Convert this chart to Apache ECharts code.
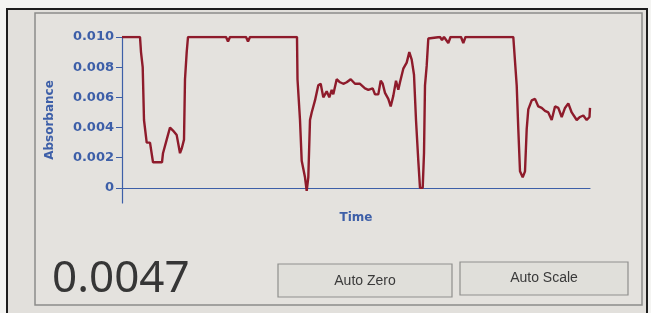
<!DOCTYPE html>
<html>
<head>
<meta charset="utf-8">
<script src="https://cdn.jsdelivr.net/npm/echarts@6/dist/echarts.min.js"></script>
<style>
  html, body { margin: 0; padding: 0; background: #f4f4f2; }
  #main { width: 651px; height: 313px; }
</style>
</head>
<body>
<div id="main"></div>
<script>
  // sample times (arbitrary units) and absorbance readings
  var times = [0, 18, 19, 20.7, 22, 24.7, 28, 31, 34, 40, 41, 44.7, 48, 51, 54.7, 58, 59.7, 62, 63, 64.7, 66,
    104, 106, 108, 124, 126, 128, 175, 175.5, 178, 179.7, 183, 184.7, 186.3, 188, 189.7, 193, 196.3, 198.7,
    201.3, 204.7, 207.3, 209.7, 211.3, 214.7, 218, 221.3, 224.7, 228.7, 233, 238, 243, 246.3, 250.7, 253,
    256.3, 258.7, 260.7, 263, 266.3, 268.7, 271.3, 274, 276.3, 278, 281.3, 284.7, 287.3, 289.7, 292, 294,
    296.3, 298, 300.7, 302, 303, 304.7, 306.3, 308, 318, 320, 322, 324, 326.3, 328.5, 339, 341.3, 343.5,
    391.3, 394.7, 396.3, 398, 400.7, 403, 404.7, 406.3, 409.7, 413, 416.3, 419.7, 423, 426.3, 429.7, 433,
    436.3, 439.7, 443, 446.3, 449.7, 454.7, 458, 461.3, 464.7, 467.5, 468];
  var absorbance = [0.010, 0.010, 0.0090, 0.0080, 0.0045, 0.0030, 0.0030, 0.0017, 0.0017, 0.0017, 0.0023,
    0.0032, 0.0040, 0.0038, 0.0035, 0.0023, 0.0026, 0.0032, 0.0072, 0.0090, 0.010,
    0.010, 0.0097, 0.010, 0.010, 0.0097, 0.010, 0.010, 0.0072, 0.0045, 0.0018, 0.0007, -0.0002, 0.0007,
    0.0045, 0.0050, 0.0058, 0.0068, 0.0069, 0.0060, 0.0064, 0.0060, 0.0065, 0.0062, 0.0072, 0.0070, 0.0069,
    0.0070, 0.0072, 0.0069, 0.0069, 0.0066, 0.0065, 0.0066, 0.0062, 0.0062, 0.0071, 0.0069, 0.0063, 0.0059,
    0.0054, 0.0061, 0.0071, 0.0065, 0.0070, 0.0079, 0.0083, 0.0090, 0.0085, 0.0075, 0.0045, 0.0018, 0.0000,
    0.0000, 0.0023, 0.0068, 0.0081, 0.0099, 0.010, 0.010, 0.0098, 0.010, 0.010, 0.0096, 0.010, 0.010,
    0.0096, 0.010, 0.010, 0.0068, 0.0039, 0.0011, 0.0007, 0.0011, 0.0039, 0.0052, 0.0058, 0.0059, 0.0054,
    0.0053, 0.0051, 0.0050, 0.0045, 0.0054, 0.0053, 0.0047, 0.0053, 0.0056, 0.0050, 0.0045, 0.0047, 0.0048,
    0.0045, 0.0047, 0.0053];
  var yTicks = [0, 0.002, 0.004, 0.006, 0.008, 0.010];
  var reading = "0.0047";

  var points = times.map(function (t, i) { return [t, absorbance[i]]; });
  var blue = "#3d5fa8";

  var myChart = echarts.init(document.getElementById("main"));

  myChart.setOption({
    backgroundColor: "#f4f4f2",
    animation: false,
    grid: { left: 122, right: 61, top: 37, bottom: 110 },
    xAxis: {
      type: "value",
      min: 0,
      max: 468,
      name: "Time",
      nameLocation: "middle",
      nameGap: 9,
      nameTextStyle: { color: blue, fontFamily: "DejaVu Sans", fontWeight: "bold", fontSize: 12 },
      axisLine: { onZero: true, lineStyle: { color: blue, width: 1.2 } },
      axisTick: { show: false },
      axisLabel: { show: false },
      splitLine: { show: false }
    },
    yAxis: {
      type: "value",
      min: -0.001,
      max: 0.010,
      name: "Absorbance",
      nameLocation: "middle",
      nameRotate: 90,
      nameGap: 66,
      nameTextStyle: { color: blue, fontFamily: "DejaVu Sans", fontWeight: "bold", fontSize: 12 },
      axisLine: { show: true, lineStyle: { color: blue, width: 1.2 } },
      axisTick: { show: true, length: 6, customValues: yTicks, lineStyle: { color: blue } },
      axisLabel: {
        customValues: yTicks,
        margin: 8,
        color: blue,
        fontFamily: "DejaVu Sans",
        fontWeight: "bold",
        fontSize: 13,
        formatter: function (v) { return v === 0 ? "0" : v.toFixed(3); }
      },
      splitLine: { show: false }
    },
    series: [
      {
        type: "line",
        data: points,
        showSymbol: false,
        lineStyle: { color: "#8e1b2b", width: 2.4 },
        z: 3
      }
    ],
    graphic: [
      // screen panel and frame
      { type: "rect", z: -10, shape: { x: 7, y: 9, width: 640, height: 310 },
        style: { fill: "#e2e0dc", stroke: "#1e1e1e", lineWidth: 2 } },
      { type: "rect", z: -9, shape: { x: 35, y: 13, width: 607, height: 292 },
        style: { fill: "#e4e2de", stroke: "#8c8c8a", lineWidth: 1.5 } },
      // buttons
      { type: "rect", shape: { x: 278, y: 264, width: 174, height: 33 },
        style: { fill: "#e0dfda", stroke: "#8f8f8d", lineWidth: 1.2 } },
      { type: "text", x: 365, y: 281,
        style: { text: "Auto Zero", fill: "#3a3a3a", font: "14px 'Liberation Sans'", align: "center", verticalAlign: "middle" } },
      { type: "rect", shape: { x: 460, y: 262, width: 168, height: 33 },
        style: { fill: "#e0dfda", stroke: "#8f8f8d", lineWidth: 1.2 } },
      { type: "text", x: 544, y: 278,
        style: { text: "Auto Scale", fill: "#3a3a3a", font: "14px 'Liberation Sans'", align: "center", verticalAlign: "middle" } },
      // live reading
      { type: "text", x: 52, y: 279,
        style: { text: reading, fill: "#363636", font: "44px 'Noto Sans'", align: "left", verticalAlign: "middle" } }
    ]
  });
</script>
</body>
</html>
